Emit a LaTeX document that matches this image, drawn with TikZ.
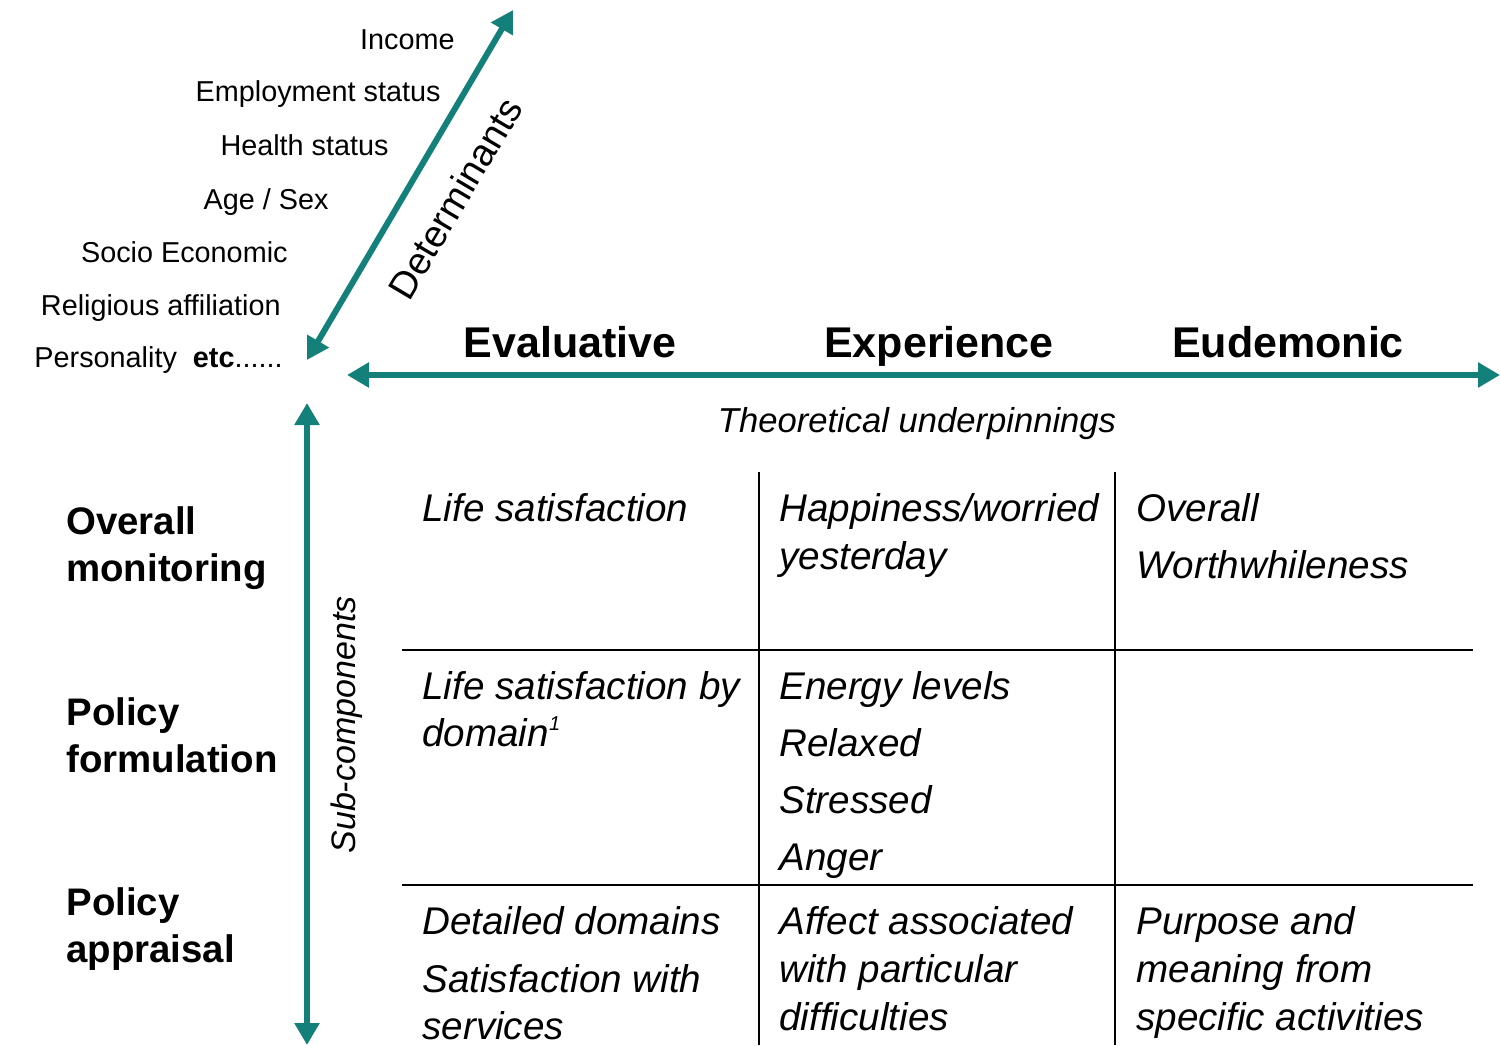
\documentclass[tikz,border=0pt]{standalone}
\usepackage{fontspec}
\setmainfont{Liberation Sans}
\usetikzlibrary{arrows.meta}
\definecolor{teal1}{RGB}{20,128,122}
\begin{document}
\begin{tikzpicture}[x=0.5pt,y=-0.5pt,
  lst/.style={font=\fontsize{14.4}{16}\selectfont, anchor=base east, inner sep=0},
  hdr/.style={font=\fontsize{21.5}{24}\selectfont\bfseries, anchor=base, inner sep=0},
  cell/.style={font=\fontsize{19.3}{22}\selectfont\itshape, anchor=base west, inner sep=0},
  side/.style={font=\fontsize{19.2}{22}\selectfont\bfseries, anchor=base west, inner sep=0},
  axis/.style={teal1, line width=3pt, {Triangle[length=11pt,width=12pt]}-{Triangle[length=11pt,width=12pt]}},
  grid/.style={black, line width=0.8pt}]
\useasboundingbox (0,0) rectangle (1500,1045);
% determinants list
\node[lst] (inc) at (455,49) {Income};
\node[lst] (emp) at (441,101) {Employment status};
\node[lst] (hea) at (389,155) {Health status};
\node[lst] (age) at (329,209) {Age / Sex};
\node[lst] (soc) at (288,262) {Socio Economic};
\node[lst] (rel) at (281,315) {Religious affiliation};
\node[lst] (per) at (283,367) {Personality\hspace{8pt}\textbf{etc}......};
% axes
\coordinate (dA) at (307,360);
\coordinate (dB) at (513,10);
\coordinate (hA) at (347,375);
\coordinate (hB) at (1500,375);
\coordinate (vA) at (307,403);
\coordinate (vB) at (307,1045);
\draw[axis] (dA) -- (dB);
\draw[axis] (hA) -- (hB);
\draw[axis] (vA) -- (vB);
\node[rotate=59.3, font=\fontsize{19}{22}\selectfont, inner sep=0] (det) at (455,198) {Determinants};
\node[rotate=90, font=\fontsize{17}{20}\selectfont\itshape, inner sep=0] (sub) at (347,725) {Sub-components};
% headers
\node[hdr] (h1) at (570,357) {Evaluative};
\node[hdr] (h2) at (939,357) {Experience};
\node[hdr] (h3) at (1288,357) {Eudemonic};
\node[font=\fontsize{17.3}{20}\selectfont\itshape, anchor=base, inner sep=0] (theo) at (917,432) {Theoretical underpinnings};
% grid
\coordinate (g1t) at (759,472); \coordinate (g1b) at (759,1045);
\coordinate (g2t) at (1115,472); \coordinate (g2b) at (1115,1045);
\coordinate (r1l) at (402,650); \coordinate (r1r) at (1473,650);
\coordinate (r2l) at (402,885); \coordinate (r2r) at (1473,885);
\draw[grid] (g1t) -- (g1b);
\draw[grid] (g2t) -- (g2b);
\draw[grid] (r1l) -- (r1r);
\draw[grid] (r2l) -- (r2r);
% side labels
\node[side] (s1a) at (66,534) {Overall};
\node[side] (s1b) at (66,581) {monitoring};
\node[side] (s2a) at (66,725) {Policy};
\node[side] (s2b) at (66,772) {formulation};
\node[side] (s3a) at (66,915) {Policy};
\node[side] (s3b) at (66,962) {appraisal};
% row 1
\node[cell] (c11) at (422,521) {Life satisfaction};
\node[cell] (c12a) at (779,521) {Happiness/worried};
\node[cell] (c12b) at (779,569) {yesterday};
\node[cell] (c13a) at (1136,521) {Overall};
\node[cell] (c13b) at (1136,578) {Worthwhileness};
% row 2
\node[cell] (c21a) at (422,699) {Life satisfaction by};
\node[cell] (c21b) at (422,746) {domain\textsuperscript{\fontsize{10}{12}\selectfont 1}};
\node[cell] (c22a) at (779,699) {Energy levels};
\node[cell] (c22b) at (779,756) {Relaxed};
\node[cell] (c22c) at (779,813) {Stressed};
\node[cell] (c22d) at (779,870) {Anger};
% row 3
\node[cell] (c31a) at (422,934) {Detailed domains};
\node[cell] (c31b) at (422,992) {Satisfaction with};
\node[cell] (c31c) at (422,1039) {services};
\node[cell] (c32a) at (779,934) {Affect associated};
\node[cell] (c32b) at (779,982) {with particular};
\node[cell] (c32c) at (779,1030) {difficulties};
\node[cell] (c33a) at (1136,934) {Purpose and};
\node[cell] (c33b) at (1136,982) {meaning from};
\node[cell] (c33c) at (1136,1030) {specific activities};
\end{tikzpicture}
\end{document}
